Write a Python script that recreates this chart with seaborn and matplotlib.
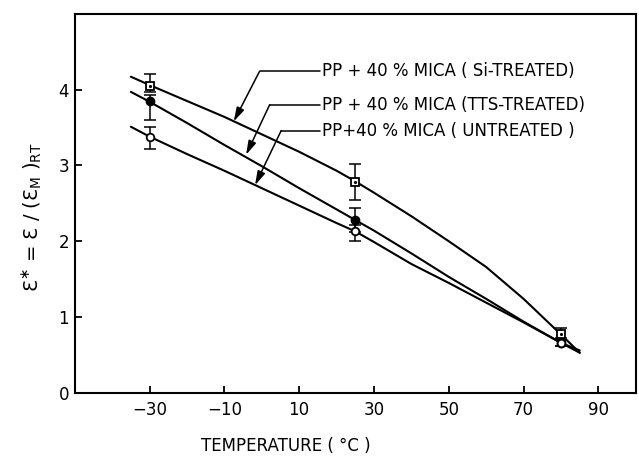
import numpy as np
import pandas as pd
import matplotlib
matplotlib.use('Agg')
import matplotlib.pyplot as plt
import seaborn as sns

# measured points (temperature in C, normalised modulus)
temps = [-30, 25, 80]
si_mean = [4.05, 2.78, 0.78]
si_low = [3.97, 2.55, 0.72]
si_high = [4.20, 3.02, 0.85]
tts_mean = [3.85, 2.28, 0.66]
tts_low = [3.60, 2.12, 0.62]
tts_high = [3.93, 2.44, 0.70]
un_mean = [3.37, 2.13, 0.66]
un_low = [3.22, 2.00, 0.62]
un_high = [3.51, 2.22, 0.70]

# fitted curves
curve_t = [-35, -30, -20, -10, 0, 10, 20, 25, 30, 40, 50, 60, 70, 80, 85]
si_curve = [4.17, 4.06, 3.85, 3.64, 3.41, 3.18, 2.93, 2.79, 2.64, 2.33, 2.00, 1.66, 1.24, 0.77, 0.53]
tts_curve = [3.97, 3.84, 3.56, 3.27, 2.99, 2.70, 2.42, 2.28, 2.14, 1.84, 1.53, 1.24, 0.94, 0.66, 0.53]
un_curve = [3.51, 3.38, 3.15, 2.93, 2.70, 2.47, 2.24, 2.13, 1.99, 1.70, 1.45, 1.19, 0.93, 0.66, 0.56]

labels = ['PP + 40 % MICA ( Si-TREATED)',
          'PP + 40 % MICA (TTS-TREATED)',
          'PP+40 % MICA ( UNTREATED )']
xticks = [-30, -10, 10, 30, 50, 70, 90]
yticks = [0, 1, 2, 3, 4]

sns.set_theme(style='ticks')
plt.rcParams['font.family'] = ['DejaVu Sans']
plt.rcParams['mathtext.fontset'] = 'dejavusans'
plt.rcParams['text.color'] = 'black'
plt.rcParams['axes.labelcolor'] = 'black'

fig = plt.figure(figsize=(6.39, 4.59), dpi=100)
ax = fig.add_axes([0.117, 0.144, 0.878, 0.826])

df = pd.DataFrame({
    't': curve_t * 3,
    'e': si_curve + tts_curve + un_curve,
    'series': ['si'] * len(curve_t) + ['tts'] * len(curve_t) + ['un'] * len(curve_t),
})
sns.lineplot(data=df, x='t', y='e', hue='series', units='series', estimator=None, sort=False,
             palette=['black'] * 3, linewidth=1.5, legend=False, ax=ax)

# error bars + markers
for mean, lo, hi, kind in [(si_mean, si_low, si_high, 'si'),
                           (tts_mean, tts_low, tts_high, 'tts'),
                           (un_mean, un_low, un_high, 'un')]:
    err = [np.array(mean) - np.array(lo), np.array(hi) - np.array(mean)]
    ax.errorbar(temps, mean, yerr=err, fmt='none', ecolor='black', elinewidth=1.1, capsize=4, capthick=1.1, zorder=3)
    if kind == 'si':
        ax.plot(temps, mean, 's', ms=6, mfc='white', mec='black', mew=1.3, zorder=4)
        ax.plot(temps, mean, '.', ms=2.5, color='black', zorder=5)
    elif kind == 'tts':
        ax.plot(temps, mean, 'o', ms=6, mfc='black', mec='black', zorder=4)
    else:
        ax.plot(temps, mean, 'o', ms=5.5, mfc='white', mec='black', mew=1.3, zorder=4)

# labels with leader arrows
text_x = 16
text_y = [4.24, 3.80, 3.46]
corner = [(-0.6, 4.24), (2.1, 3.80), (5.2, 3.46)]
tips = [(-7.5, 3.58), (-4.2, 3.14), (-1.8, 2.74)]
for lab, ty, (cx, cy), (tx, tyy) in zip(labels, text_y, corner, tips):
    ax.text(text_x, ty, lab, fontsize=12, va='center', ha='left', color='black')
    ax.plot([cx, text_x - 0.5], [cy, cy], color='black', lw=1.1)
    ax.annotate('', xy=(tx, tyy), xytext=(cx, cy),
                arrowprops=dict(arrowstyle='-|>,head_length=0.7,head_width=0.2',
                                color='black', lw=1.1, shrinkA=0, shrinkB=0))

ax.set_xlim(-50, 100)
ax.set_ylim(0, 5)
ax.set_xticks(xticks)
ax.set_yticks(yticks)
ax.tick_params(direction='in', length=5, width=1.3, labelsize=12, colors='black')
ax.tick_params(axis='x', pad=6)
ax.tick_params(axis='y', pad=4)
for s in ax.spines.values():
    s.set_linewidth(1.5)
    s.set_color('black')

ax.set_xlabel('TEMPERATURE ( °C )', fontsize=12)
ax.xaxis.set_label_coords(0.376, -0.14)
ax.xaxis.label.set_va('center')
ax.set_ylabel('Ɛ$^{\\ast}$ = Ɛ / (Ɛ$_{\\rm M}$ )$_{\\rm RT}$', fontsize=14)
ax.yaxis.set_label_coords(-0.075, 0.464)
ax.yaxis.label.set_va('center')

fig.savefig('out.png', dpi=100)
